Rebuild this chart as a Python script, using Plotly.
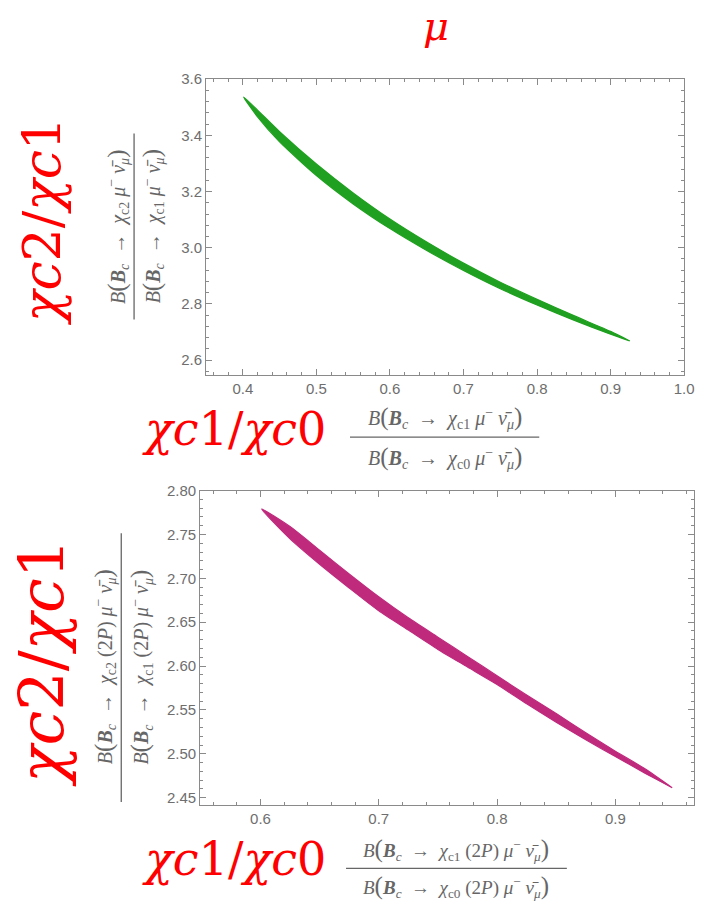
import plotly.graph_objects as go

W, H = 706, 903

# ---- upper panel: chi_c2/chi_c1 vs chi_c1/chi_c0 (1P) ----
x_1p = [0.401, 0.42, 0.45, 0.50, 0.55, 0.60, 0.65, 0.70, 0.75, 0.80, 0.85, 0.90, 0.926]
y_1p_hi = [3.537, 3.490, 3.413, 3.298, 3.195, 3.102, 3.020, 2.945, 2.877, 2.816, 2.758, 2.702, 2.668]
y_1p_lo = [3.537, 3.466, 3.377, 3.257, 3.156, 3.068, 2.990, 2.919, 2.854, 2.796, 2.742, 2.692, 2.668]

# ---- lower panel: the same ratios for the 2P states ----
x_2p = [0.601, 0.625, 0.65, 0.675, 0.70, 0.725, 0.75, 0.775, 0.80, 0.825, 0.85, 0.875, 0.90, 0.925, 0.948]
y_2p_hi = [2.779, 2.759, 2.732, 2.705, 2.679, 2.655, 2.633, 2.611, 2.589, 2.567, 2.546, 2.524, 2.503, 2.483, 2.4615]
y_2p_lo = [2.779, 2.745, 2.716, 2.689, 2.663, 2.641, 2.619, 2.599, 2.579, 2.557, 2.536, 2.516, 2.497, 2.478, 2.4615]

x_ticks_1p = [0.4, 0.5, 0.6, 0.7, 0.8, 0.9, 1.0]
y_ticks_1p = [2.6, 2.8, 3.0, 3.2, 3.4, 3.6]
x_ticks_2p = [0.6, 0.7, 0.8, 0.9]
y_ticks_2p = [2.45, 2.50, 2.55, 2.60, 2.65, 2.70, 2.75, 2.80]

GREEN = "#20a020"
MAGENTA = "#bf2a7d"
FRAME = "#8a8a8a"
TICKTXT = "#6e6e6e"
LABEL = "#666666"
RED = "#ff0000"


def px(x):
    return x / W


def py(y):
    return 1 - y / H


def band(x, hi, lo, color, xa, ya):
    return go.Scatter(
        x=list(x) + list(reversed(x)),
        y=list(hi) + list(reversed(lo)),
        fill="toself", fillcolor=color, mode="lines",
        line=dict(color=color, width=1.2, shape="spline", smoothing=0.6),
        xaxis=xa, yaxis=ya, hoverinfo="skip", showlegend=False,
    )


fig = go.Figure()
fig.add_trace(band(x_1p, y_1p_hi, y_1p_lo, GREEN, "x", "y"))
fig.add_trace(band(x_2p, y_2p_hi, y_2p_lo, MAGENTA, "x2", "y2"))


def axis(domain, rng, ticks, fmt, minor, anchor):
    return dict(
        domain=domain, range=rng, tickvals=ticks, tickformat=fmt,
        ticks="inside", ticklen=6, tickwidth=1, tickcolor=FRAME,
        minor=dict(dtick=minor, ticks="inside", ticklen=3, tickcolor=FRAME, tickwidth=1),
        showline=True, linecolor=FRAME, linewidth=1, mirror="allticks",
        showgrid=False, zeroline=False, anchor=anchor,
        tickfont=dict(family="Liberation Sans", size=15, color=TICKTXT),
    )


fig.update_layout(
    width=W, height=H,
    margin=dict(l=0, r=0, t=0, b=0),
    paper_bgcolor="white", plot_bgcolor="white",
    xaxis=axis([px(209), px(694)], [0.35, 1.0], x_ticks_1p, ".1f", 0.02, "y"),
    yaxis=axis([py(370), py(71)], [2.547, 3.6], y_ticks_1p, ".1f", 0.04, "x"),
    xaxis2=axis([px(203), px(704)], [0.549, 0.9665], x_ticks_2p, ".1f", 0.02, "y2"),
    yaxis2=axis([py(805), py(487)], [2.4416, 2.8], y_ticks_2p, ".2f", 0.01, "x2"),
)

SP = "&nbsp;"


def frac_part(state, extra=""):
    big = "<span style='font-size:25px'>"
    return (
        f"<i>B</i>{big}(</span><b><i>B</i></b><sub><i>c</i></sub>{SP*2}→{SP*2}"
        f"<i>χ</i><sub>c{state}</sub>{extra}{SP}<i>μ</i><sup>−</sup>{SP}"
        f"<i>ν̄</i><sub><i>μ</i></sub>{big})</span>"
    )


def text(x, y, s, size, color, family="Liberation Serif", angle=0):
    fig.add_annotation(
        x=px(x), y=py(y), xref="paper", yref="paper", text=s, showarrow=False,
        textangle=angle, xanchor="center", yanchor="middle",
        font=dict(family=family, size=size, color=color),
    )


def hline(x0, x1, y):
    fig.add_shape(type="line", xref="paper", yref="paper",
                  x0=px(x0), x1=px(x1), y0=py(y), y1=py(y),
                  line=dict(color=LABEL, width=1.3))


def vline(x, y0, y1):
    fig.add_shape(type="line", xref="paper", yref="paper",
                  x0=px(x), x1=px(x), y0=py(y0), y1=py(y1),
                  line=dict(color=LABEL, width=1.3))


# axis titles written as fractions of branching ratios
text(119, 220, frac_part("2"), 20, LABEL, angle=-90)
vline(136, 126, 314)
text(155, 220, frac_part("1"), 20, LABEL, angle=-90)

text(451, 413, frac_part("1"), 20, LABEL)
hline(355, 547, 433)
text(451, 454, frac_part("0"), 20, LABEL)

text(106, 665, frac_part("2", f"{SP}(2<i>P</i>)"), 20, LABEL, angle=-90)
vline(123, 530, 802)
text(143, 665, frac_part("1", f"{SP}(2<i>P</i>)"), 20, LABEL, angle=-90)

text(463, 850, frac_part("1", f"{SP}(2<i>P</i>)"), 19, LABEL)
hline(351, 575, 869)
text(463, 887, frac_part("0", f"{SP}(2<i>P</i>)"), 19, LABEL)

# large red captions
RED_FONT = "DejaVu Serif"
text(442, 17, "<i>μ</i>", 40, RED, family=RED_FONT)
text(42, 215, "<i>χc</i>2/<i>χc</i>1", 52, RED, family=RED_FONT, angle=-90)
text(42, 661, "<i>χc</i>2/<i>χc</i>1", 62, RED, family=RED_FONT, angle=-90)
text(237, 425, "<i>χc</i>1/<i>χc</i>0", 46, RED, family=RED_FONT)
text(237, 860, "<i>χc</i>1/<i>χc</i>0", 46, RED, family=RED_FONT)

fig.write_html("out.html")
